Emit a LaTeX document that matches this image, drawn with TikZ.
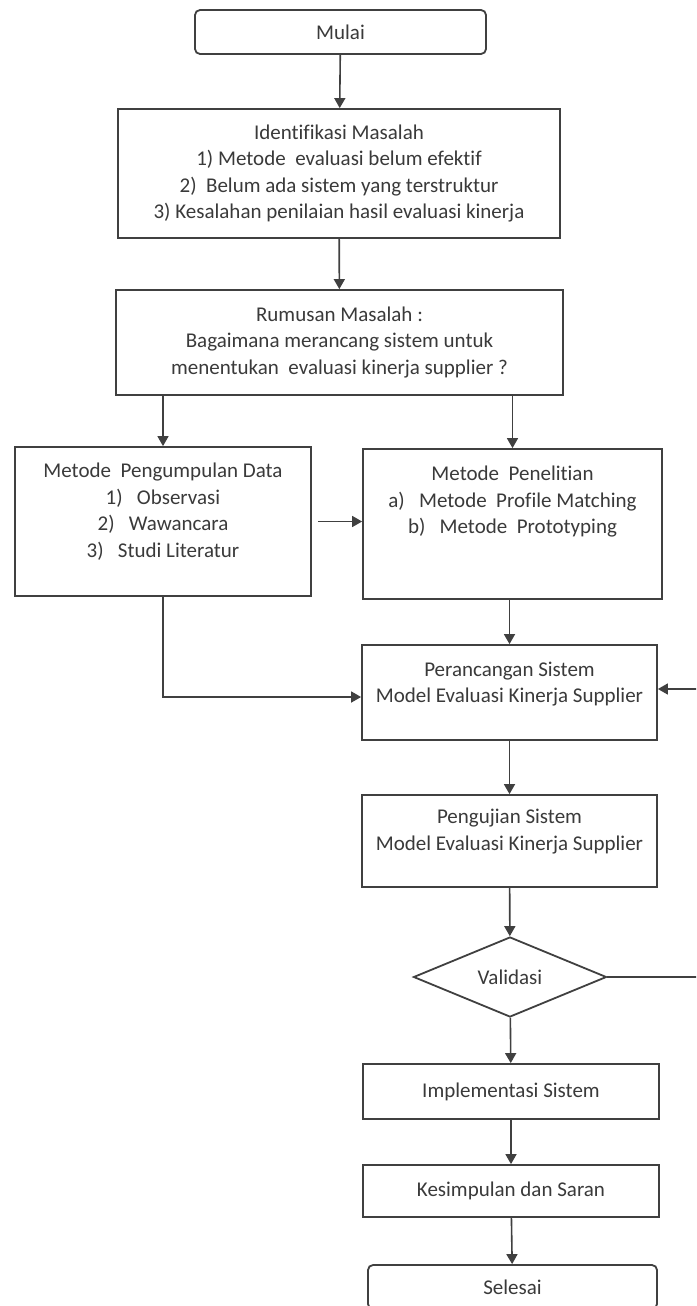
\documentclass[tikz,border=0pt]{standalone}
\usepackage{fontspec}
\setmainfont{Carlito}[Ligatures=NoCommon]
\definecolor{LineGray}{RGB}{64, 64, 64}
\definecolor{TextGray}{RGB}{58, 58, 58}
\usetikzlibrary{arrows.meta, shapes.geometric, calc}

\begin{document}
\begin{tikzpicture}[x=1pt, y=-1pt,
  box/.style={draw=LineGray, line width=0.9pt, fill=white, text=TextGray, align=center, inner sep=0pt, font=\fontsize{10.5}{13.25}\selectfont},
  terminal/.style={box, rounded corners=2.5pt},
  decision/.style={box, diamond, aspect=2.4},
  flow/.style={draw=LineGray, line width=0.8pt, -{Triangle[length=5pt, width=5.5pt]}}]
\clip (0,0) rectangle (348,653);
\fill[white] (0,0) rectangle (348,653);
\node[terminal, minimum width=145.5pt, minimum height=22pt] (mulai) at (170.25,16) {Mulai};
\node[box, minimum width=221pt, minimum height=64.5pt] (identifikasi) at (169.5,86.75) {Identifikasi Masalah\\ 1) Metode~ evaluasi belum efektif\\ 2)~ Belum ada sistem yang terstruktur\\ 3) Kesalahan penilaian hasil evaluasi kinerja};
\node[box, minimum width=223.5pt, minimum height=52.5pt] (rumusan) at (169.75,171.25) {Rumusan Masalah :\\ Bagaimana merancang sistem untuk\\ menentukan~ evaluasi kinerja supplier ?};
\node[box, minimum width=148pt, minimum height=74.5pt] (pengumpulan) at (81.5,260.75) {Metode~ Pengumpulan Data\\ 1)~~ Observasi\\ 2)~~ Wawancara\\ 3)~~ Studi Literatur\\[-1.75pt] ~};
\node[box, minimum width=149.5pt, minimum height=75pt] (penelitian) at (256.25,262) {Metode~ Penelitian\\ a)~~ Metode~ Profile Matching\\ b)~~ Metode~ Prototyping\\[10.75pt] ~};
\node[box, minimum width=147.5pt, minimum height=47.5pt] (perancangan) at (254.75,346.25) {Perancangan Sistem\\ Model Evaluasi Kinerja Supplier\\[-3.25pt] ~};
\node[box, minimum width=147.5pt, minimum height=46pt] (pengujian) at (254.75,420.5) {Pengujian Sistem\\ Model Evaluasi Kinerja Supplier\\[-2.25pt] ~};
\node[decision, minimum width=96.5pt, minimum height=40pt] (validasi) at (255,488.5) {Validasi};
\node[box, minimum width=148pt, minimum height=27.5pt] (implementasi) at (255.5,545.75) {Implementasi Sistem};
\node[box, minimum width=148pt, minimum height=26pt] (kesimpulan) at (255.5,595.5) {Kesimpulan dan Saran};
\node[terminal, minimum width=144.5pt, minimum height=22pt] (selesai) at (256.25,643.5) {Selesai};
\coordinate (balik) at (352,488.5);
\draw[flow] (mulai) -- (identifikasi);
\draw[flow] (identifikasi) -- (rumusan);
\draw[flow] (pengumpulan.north |- rumusan.south) -- (pengumpulan.north);
\draw[flow] (penelitian.north |- rumusan.south) -- (penelitian.north);
\draw[flow, shorten <=3pt] (pengumpulan.east) -- (pengumpulan.east -| penelitian.west);
\draw[flow] (penelitian.south -| perancangan.north) -- (perancangan.north);
\draw[flow] (pengumpulan.south) |- ([yshift=-2.25pt]perancangan.west);
\draw[flow] (perancangan) -- (pengujian);
\draw[flow] (pengujian) -- (validasi);
\draw[flow] (validasi) -- (implementasi);
\draw[flow] (implementasi) -- (kesimpulan);
\draw[flow] (kesimpulan) -- (selesai);
\draw[flow] (validasi.east) -- (balik) |- ([yshift=1.75pt]perancangan.east);
\end{tikzpicture}
\end{document}
